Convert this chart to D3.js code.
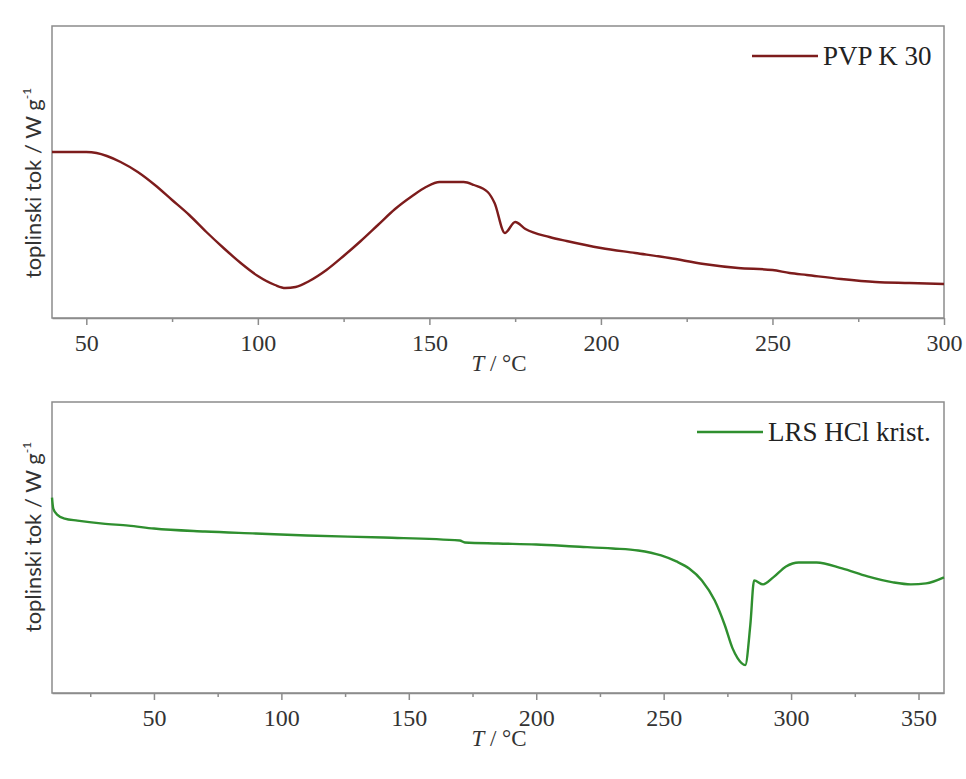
<!DOCTYPE html>
<html lang="hr">
<head>
    <meta charset="UTF-8">
    <script src="https://d3js.org/d3.v7.min.js"></script>
    <title>DSC PVP K 30 / LRS HCl</title>
    <style>
        body { margin: 0; background: #fff; }
        .tick text { font-family: "Liberation Serif", "DejaVu Serif", serif; }
    </style>
</head>
<body>
    <script>
        // gornji graf - PVP K 30 (toplinski tok, proizvoljne jedinice)
        var pvpT = [40, 45, 50, 53, 56, 60, 65, 70, 75, 80, 85, 90, 95, 100, 105, 108, 111, 115, 120, 125,
                    130, 135, 140, 145, 149, 153, 160, 163, 167, 169, 172, 175, 178, 185, 190, 200, 210,
                    220, 230, 240, 250, 255, 260, 270, 280, 290, 300];
        var pvpFlow = [1.66, 1.66, 1.66, 1.65, 1.62, 1.56, 1.46, 1.33, 1.18, 1.03, 0.86, 0.70, 0.55, 0.42, 0.33, 0.30, 0.31, 0.37, 0.48, 0.62,
                       0.77, 0.93, 1.09, 1.22, 1.31, 1.36, 1.36, 1.33, 1.26, 1.15, 0.85, 0.96, 0.89, 0.81, 0.77, 0.70, 0.65,
                       0.60, 0.54, 0.50, 0.48, 0.45, 0.43, 0.39, 0.36, 0.35, 0.34];

        // donji graf - LRS HCl krist.
        var lrsT = [10, 10.5, 12, 15, 20, 30, 40, 50, 70, 90, 110, 140, 170, 172, 185, 200, 215, 230, 240, 249,
                    255, 260, 265, 270, 274, 277, 279, 282, 284, 285.5, 289, 293, 298, 303, 310, 320, 330,
                    340, 347, 353, 360];
        var lrsFlow = [1.96, 1.85, 1.79, 1.75, 1.73, 1.70, 1.68, 1.65, 1.62, 1.60, 1.58, 1.56, 1.53, 1.51, 1.50, 1.49, 1.47, 1.45, 1.43, 1.38,
                       1.32, 1.25, 1.13, 0.93, 0.68, 0.45, 0.35, 0.28, 0.68, 1.13, 1.09, 1.16, 1.27, 1.31, 1.31, 1.25, 1.17,
                       1.11, 1.09, 1.10, 1.16];

        var pvpTicks = [50, 100, 150, 200, 250, 300];
        var pvpMinor = [75, 125, 175, 225, 275];
        var lrsTicks = [50, 100, 150, 200, 250, 300, 350];
        var lrsMinor = [25, 75, 125, 175, 225, 275, 325];

        var width = 966, height = 779;
        var svg = d3.select('body').append('svg')
            .attr('width', width)
            .attr('height', height);

        function panel(cfg) {
            var x = d3.scaleLinear().domain(cfg.xDomain).range([52, 944]);
            var y = d3.scaleLinear().domain([0, 2.92]).range([cfg.bottom, cfg.top]);
            var g = svg.append('g');

            // okvir
            g.append('rect')
                .attr('x', 52).attr('y', cfg.top)
                .attr('width', 892).attr('height', cfg.bottom - cfg.top)
                .attr('fill', 'none')
                .attr('stroke', '#8c8c8c')
                .attr('stroke-width', 1.5);

            var minorAxis = d3.axisBottom(x).tickValues(cfg.minor).tickSize(4).tickFormat('');
            g.append('g')
                .attr('transform', 'translate(0,' + cfg.bottom + ')')
                .call(minorAxis)
                .call(function (s) { s.select('.domain').remove(); s.selectAll('line').attr('stroke', '#8c8c8c').attr('stroke-width', 1.5); });

            var axis = d3.axisBottom(x).tickValues(cfg.ticks).tickSize(7).tickPadding(9).tickSizeOuter(0);
            g.append('g')
                .attr('transform', 'translate(0,' + cfg.bottom + ')')
                .call(axis)
                .call(function (s) {
                    s.select('.domain').attr('stroke', '#8c8c8c').attr('stroke-width', 1.5);
                    s.selectAll('line').attr('stroke', '#8c8c8c').attr('stroke-width', 1.5);
                    s.selectAll('text').attr('font-size', 24).attr('fill', '#333');
                });

            var line = d3.line()
                .x(function (d) { return x(d[0]); })
                .y(function (d) { return y(d[1]); })
                .curve(d3.curveMonotoneX);

            g.append('path')
                .datum(d3.zip(cfg.xs, cfg.ys))
                .attr('d', line)
                .attr('fill', 'none')
                .attr('stroke', cfg.color)
                .attr('stroke-width', 2.4)
                .attr('stroke-linejoin', 'round');

            // naslov osi x
            var xl = g.append('text')
                .attr('x', 499).attr('y', cfg.bottom + 53)
                .attr('text-anchor', 'middle')
                .attr('font-family', '"Liberation Serif", serif')
                .attr('font-size', 23)
                .attr('fill', '#333');
            xl.append('tspan').attr('font-style', 'italic').text('T');
            xl.append('tspan').text(' / °C');

            // naslov osi y
            var yl = g.append('text')
                .attr('transform', 'translate(41,' + cfg.yLabelY + ') rotate(-90)')
                .attr('text-anchor', 'middle')
                .attr('font-family', 'Lato, "Open Sans", sans-serif')
                .attr('font-size', 22)
                .attr('fill', '#333');
            yl.append('tspan').text('toplinski tok / W g');
            yl.append('tspan').attr('font-size', 12).attr('dy', -10).text('-1');

            // legenda
            g.append('line')
                .attr('x1', cfg.legX).attr('x2', cfg.legX + 66)
                .attr('y1', cfg.top + 30).attr('y2', cfg.top + 30)
                .attr('stroke', cfg.color).attr('stroke-width', 2.4);
            g.append('text')
                .attr('x', cfg.legX + 71).attr('y', cfg.top + 39)
                .attr('font-family', '"Liberation Serif", serif')
                .attr('font-size', 27)
                .attr('fill', '#222')
                .text(cfg.name);
        }

        panel({ top: 26, bottom: 318, xDomain: [40, 300], ticks: pvpTicks, minor: pvpMinor,
                xs: pvpT, ys: pvpFlow, color: '#7d1c1c', name: 'PVP K 30', legX: 752, yLabelY: 183 });
        panel({ top: 402, bottom: 693, xDomain: [10, 360], ticks: lrsTicks, minor: lrsMinor,
                xs: lrsT, ys: lrsFlow, color: '#2f8f2f', name: 'LRS HCl krist.', legX: 697, yLabelY: 537 });
    </script>
</body>
</html>
